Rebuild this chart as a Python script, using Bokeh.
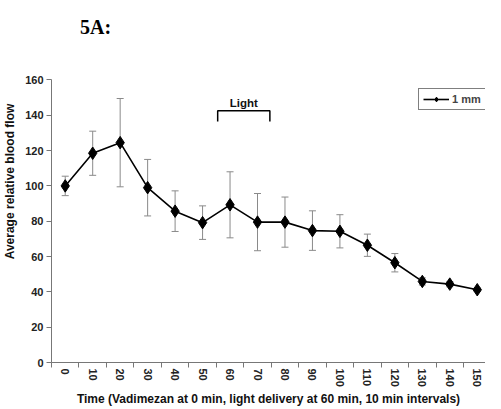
import math
from bokeh.plotting import figure
from bokeh.models import (ColumnDataSource, Whisker, FixedTicker, Legend, Label,
                          LegendItem, Range1d, TeeHead)
from bokeh.embed import file_html
from bokeh.resources import INLINE
from bokeh.core.properties import value

# ---- data ----
time_min = [0, 10, 20, 30, 40, 50, 60, 70, 80, 90, 100, 110, 120, 130, 140, 150]
mean_flow = [100, 118.5, 124.5, 99, 85.7, 79.2, 89.3, 79.5, 79.5, 74.7, 74.3, 66.4, 56.5, 45.9, 44.4, 41.2]
sd_flow = [5.5, 12.5, 25, 16, 11.5, 9.5, 18.7, 16.2, 14.2, 11.2, 9.4, 6.3, 5.2, 2, 1.5, 1]
y_ticks = [0, 20, 40, 60, 80, 100, 120, 140, 160]
series_name = "1 mm"
light_text = "Light"
light_start = 55.5
light_end = 74.5
panel_text = "5A:"
x_title = "Time (Vadimezan at 0 min, light delivery at 60 min, 10 min intervals)"
y_title = "Average relative blood flow"

upper = [m + s for m, s in zip(mean_flow, sd_flow)]
lower = [m - s for m, s in zip(mean_flow, sd_flow)]
src = ColumnDataSource(dict(x=time_min, y=mean_flow, upper=upper, lower=lower))

FONT = "Liberation Sans"
Y_AXIS_MAX = y_ticks[-1]

p = figure(width=485, height=408, output_backend="svg", toolbar_location=None,
           x_range=Range1d(-5, 153), y_range=Range1d(0, 205),
           min_border_left=46, min_border_right=0, min_border_top=0,
           min_border_bottom=38)
p.outline_line_color = None
p.grid.visible = False
p.background_fill_color = "white"
p.border_fill_color = "white"

# panel label
p.add_layout(Label(x=5.4, y=190, text=panel_text, text_font="Liberation Serif",
                   text_font_style="bold", text_font_size="20px",
                   text_baseline="middle", text_color="black"))

# error bars
wh = Whisker(source=src, base="x", upper="upper", lower="lower",
             line_color="#8a8a8a", line_width=1,
             upper_head=TeeHead(size=7, line_color="#8a8a8a", line_width=1),
             lower_head=TeeHead(size=7, line_color="#8a8a8a", line_width=1))
p.add_layout(wh)

ln = p.line("x", "y", source=src, line_color="black", line_width=1.6)
sc = p.scatter("x", "y", source=src, marker="diamond", size=12.5,
               fill_color="black", line_color="black")

# light bracket
p.line([light_start, light_start, light_end, light_end], [136.5, 142.5, 142.5, 136.5],
       line_color="black", line_width=1.5)
p.text(x=[(light_start + light_end) / 2], y=[143.6], text=[light_text],
       text_font=value(FONT), text_font_style="bold", text_font_size="11.5px",
       text_align="center", text_baseline="bottom", text_color="#111111")

# legend
leg = Legend(items=[LegendItem(label=series_name, renderers=[ln, sc])],
             location=(367, 252), border_line_color="black", border_line_width=1,
             background_fill_color="white", background_fill_alpha=1,
             padding=4, margin=0, spacing=0, glyph_width=26, glyph_height=12,
             label_height=12, label_standoff=3,
             label_text_font=FONT, label_text_font_style="bold",
             label_text_font_size="11px")
p.add_layout(leg)

# axes
axis_col = "#777777"
for ax in (p.xaxis[0], p.yaxis[0]):
    ax.axis_line_color = axis_col
    ax.major_tick_line_color = axis_col
    ax.minor_tick_line_color = axis_col
    ax.major_label_text_font = FONT
    ax.major_label_text_font_style = "bold"
    ax.major_label_text_font_size = "11px"
    ax.major_label_text_color = "#222222"
    ax.axis_label_text_font = FONT
    ax.axis_label_text_font_style = "bold"
    ax.axis_label_text_font_size = "12px"
    ax.axis_label_text_color = "#111111"

p.yaxis.ticker = FixedTicker(ticks=y_ticks, minor_ticks=[])
p.yaxis.bounds = (0, Y_AXIS_MAX)
p.yaxis.major_tick_out = 5
p.yaxis.major_tick_in = 0
p.yaxis.major_label_standoff = 3
p.yaxis.axis_label = y_title
p.yaxis.axis_label_standoff = 5

p.xaxis.ticker = FixedTicker(ticks=time_min,
                             minor_ticks=[t - 5 for t in time_min] + [time_min[-1] + 5])
p.xaxis.major_tick_out = 5
p.xaxis.major_tick_in = 0
p.xaxis.major_tick_line_color = None
p.xaxis.minor_tick_out = 5
p.xaxis.minor_tick_in = 0
p.xaxis.major_label_orientation = "vertical"
p.xaxis.major_label_standoff = 1
p.xaxis.axis_label = x_title
p.xaxis.axis_label_standoff = 2

open("out.html", "w").write(file_html(p, INLINE))
